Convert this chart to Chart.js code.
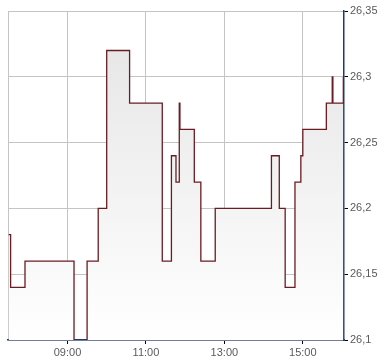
<!DOCTYPE html>
<html>
<head>
<meta charset="utf-8">
<script src="https://cdn.jsdelivr.net/npm/chart.js@4"></script>
<style>
    body { margin: 0; background: #fff; }
    #wrap { width: 390px; height: 364px; }
</style>
</head>
<body>
<div id="wrap"><canvas id="CanvasPrice" width="390" height="364"></canvas></div>
<script>
// intraday trades: time and price (price holds until the next trade)
const tradeTimes = [
    "07:30", "07:33", "07:55", "09:10", "09:30", "09:47", "10:00", "10:35",
    "11:25", "11:39", "11:46", "11:51", "11:52", "12:14", "12:24", "12:46",
    "14:12", "14:24", "14:33", "14:48", "14:57", "15:00", "15:36", "15:45",
    "15:46", "16:02"
];
const tradePrices = [
    26.18, 26.14, 26.16, 26.08, 26.16, 26.20, 26.32, 26.28,
    26.16, 26.24, 26.22, 26.28, 26.26, 26.22, 26.16, 26.20,
    26.24, 26.20, 26.14, 26.22, 26.24, 26.26, 26.28, 26.30,
    26.28, 26.30
];
const timeTicks = ["09:00", "11:00", "13:00", "15:00"];
const priceTicks = [26.1, 26.15, 26.2, 26.25, 26.3, 26.35];

const axisStart = "07:29";
const axisEnd = "16:03";

function toMinutes(hhmm) {
    const parts = hhmm.split(":");
    return parseInt(parts[0]) * 60 + parseInt(parts[1]);
}

function formatTime(minutes) {
    const h = Math.floor(minutes / 60);
    const m = minutes % 60;
    return String(h).padStart(2, "0") + ":" + String(m).padStart(2, "0");
}

const points = tradeTimes.map((t, i) => ({ x: toMinutes(t), y: tradePrices[i] }));

Chart.defaults.font.family = 'Arial, "Liberation Sans", sans-serif';
Chart.defaults.font.size = 11;
Chart.defaults.color = "#5a5a5a";

new Chart(document.getElementById("CanvasPrice"), {
    type: "line",
    data: {
        datasets: [{
            data: points,
            stepped: "before",
            borderColor: "#6a1c22",
            borderWidth: 1.3,
            pointRadius: 0,
            fill: "start",
            backgroundColor: function (context) {
                const chartArea = context.chart.chartArea;
                if (!chartArea) return "#eeeeee";
                const g = context.chart.ctx.createLinearGradient(0, chartArea.top, 0, chartArea.bottom);
                g.addColorStop(0, "#e4e4e4");
                g.addColorStop(1, "#ffffff");
                return g;
            }
        }]
    },
    options: {
        responsive: false,
        animation: false,
        layout: { padding: { left: 8, top: 11, right: 0, bottom: 0 } },
        plugins: { legend: { display: false }, tooltip: { enabled: false } },
        scales: {
            x: {
                type: "linear",
                min: toMinutes(axisStart),
                max: toMinutes(axisEnd),
                afterBuildTicks: function (scale) {
                    // left border + labelled hours
                    scale.ticks = [{ value: toMinutes(axisStart) }].concat(timeTicks.map(t => ({ value: toMinutes(t) })));
                },
                afterFit: function (scale) { scale.height = 24; },
                ticks: {
                    padding: 2,
                    maxRotation: 0,
                    autoSkip: false,
                    callback: function (value, index) {
                        return index === 0 ? "" : formatTime(value);
                    }
                },
                grid: {
                    color: "#c4c4c4",
                    lineWidth: 1,
                    tickLength: 4,
                    tickColor: function (ctx) {
                        return ctx.index === 0 ? "rgba(0,0,0,0)" : "#000000";
                    }
                },
                border: { color: "#1d3a6a", width: 1.5 }
            },
            y: {
                position: "right",
                min: 26.1,
                max: 26.35,
                afterBuildTicks: function (scale) {
                    scale.ticks = priceTicks.map(v => ({ value: v }));
                },
                afterFit: function (scale) { scale.width = 46; },
                ticks: {
                    padding: 2,
                    callback: function (value) {
                        return String(Math.round(value * 100) / 100).replace(".", ",");
                    }
                },
                grid: {
                    color: "#c4c4c4",
                    lineWidth: 1,
                    tickLength: 4,
                    tickColor: "#000000"
                },
                border: { color: "#1d3a6a", width: 1.5 }
            }
        }
    }
});
</script>
</body>
</html>
